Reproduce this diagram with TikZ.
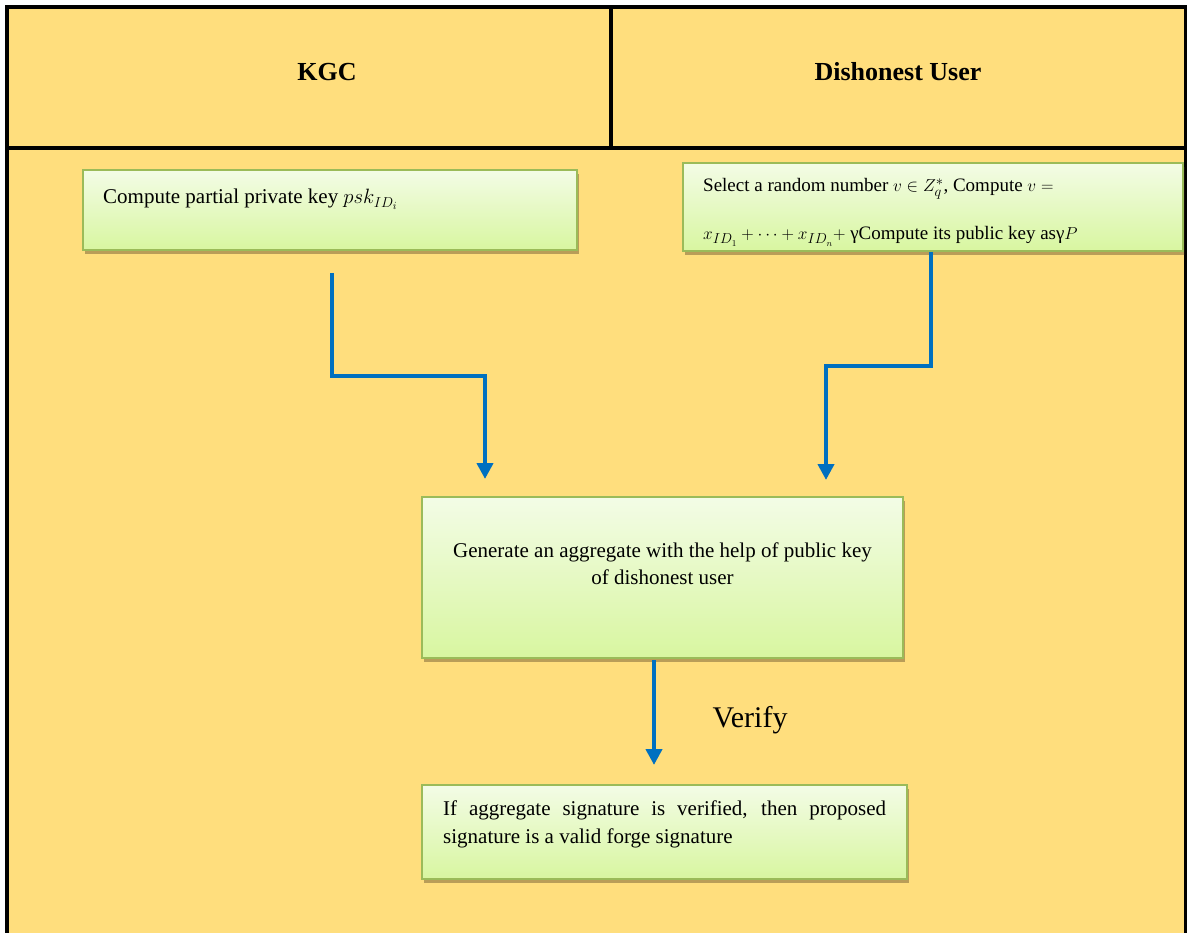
\documentclass[tikz,border=0pt]{standalone}
\usepackage{fontspec}
\setmainfont{Liberation Serif}
\usetikzlibrary{arrows.meta,shadows,calc}
\definecolor{panel}{RGB}{255,222,125}
\definecolor{flow}{RGB}{0,112,192}
\definecolor{boxedge}{RGB}{155,187,89}
\definecolor{boxtop}{RGB}{243,252,230}
\definecolor{boxbottom}{RGB}{216,246,160}
\begin{document}
\begin{tikzpicture}[x=1pt,y=-1pt,
  box/.style={draw=boxedge, line width=1.5pt, top color=boxtop, bottom color=boxbottom,
    drop shadow={shadow xshift=2pt, shadow yshift=-4pt, fill=black!70!brown, opacity=0.35},
    inner sep=0pt},
  frame/.style={line width=4pt, draw=black, line join=miter},
  flowarrow/.style={draw=flow, line width=4pt, -{Triangle[width=16pt,length=16pt]}},
  txt/.style={font=\fontsize{21}{27}\selectfont, inner sep=0pt},
  head/.style={font=\fontsize{26}{30}\selectfont\bfseries, inner sep=0pt}]
\useasboundingbox (0,0) rectangle (1187,933);

% table background and rules
\fill[panel] (7,7) rectangle (1185,933);
\draw[frame] (7,933) -- (7,7) -- (1185.5,7) -- (1185.5,933);
\draw[frame] (5,148) -- (1187,148);
\draw[frame] (611,7) -- (611,148);

% column headings
\node[head] (hk) at (327,72) {KGC};
\node[head] (hd) at (898,72) {Dishonest User};

% process boxes
\node[box, minimum width=494pt, minimum height=80pt] (b1) at (330,210) {};
\node[box, minimum width=500pt, minimum height=88pt] (b2) at (933,207) {};
\node[box, minimum width=481pt, minimum height=161pt] (b3) at (662.5,577.5) {};
\node[box, minimum width=485pt, minimum height=94pt] (b4) at (664.5,832) {};

% box texts
\node[txt, anchor=base west] (t1) at (103,204) {Compute partial private key $psk_{ID_i}$};
\node[txt, anchor=base west, align=left, font=\fontsize{19}{23}\selectfont] (t2) at (703,240)
  {Select a random number $v \in Z_q^{*}$, Compute $v =$\\[25pt]
   $x_{ID_1} + \cdots + x_{ID_n} +$ γCompute its public key asγ$P$};
\node[txt, anchor=base, align=center] (t3) at (662.5,584)
  {Generate an aggregate with the help of public key\\of dishonest user};
\node[txt, anchor=base west, text width=443pt, align=justify,
  font=\fontsize{21}{28}\selectfont] (t4) at (443,815)
  {If aggregate signature is verified, then proposed\linebreak
   signature is a valid forge signature};

% connectors
\coordinate (k0) at (332,273);
\coordinate (k1) at (485,479);
\coordinate (d0) at (931,252);
\coordinate (d1) at (826,480);
\coordinate (v0) at (654,660);
\coordinate (v1) at (654,765);
\draw[flowarrow] (k0) |- ($(k0)!0.5!(k1)$) -| (k1);
\draw[flowarrow] (d0) |- ($(d0)!0.5!(d1)$) -| (d1);
\draw[flowarrow] (v0) -- (v1);
\node[font=\fontsize{30}{34}\selectfont, inner sep=0pt] (vl) at (750,720) {Verify};
\end{tikzpicture}
\end{document}
